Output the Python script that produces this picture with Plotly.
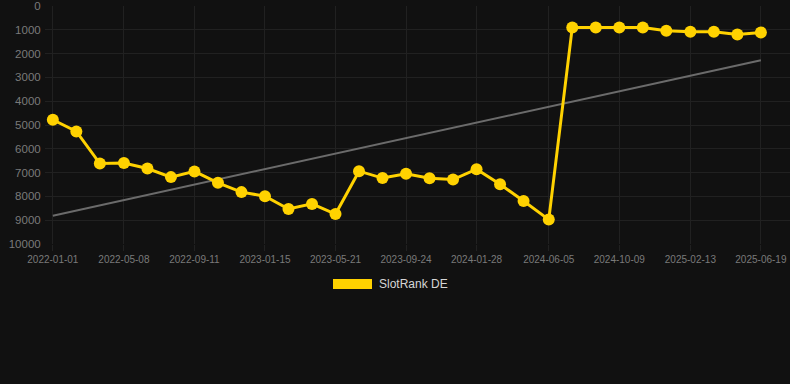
import plotly.graph_objects as go

dates = [
    "2022-01-01", "2022-02-12", "2022-03-26", "2022-05-08", "2022-06-19", "2022-07-31",
    "2022-09-11", "2022-10-23", "2022-12-04", "2023-01-15", "2023-02-26", "2023-04-09",
    "2023-05-21", "2023-07-02", "2023-08-13", "2023-09-24", "2023-11-05", "2023-12-17",
    "2024-01-28", "2024-03-10", "2024-04-21", "2024-06-05", "2024-07-17", "2024-08-28",
    "2024-10-09", "2024-11-20", "2025-01-01", "2025-02-13", "2025-03-27", "2025-05-08",
    "2025-06-19",
]
rank_de = [
    4780, 5270, 6620, 6600, 6830, 7190, 6950, 7430, 7820, 7990, 8530, 8315, 8740,
    6940, 7230, 7050, 7235, 7290, 6855, 7490, 8190, 8975,
    900, 900, 900, 900, 1040, 1080, 1080, 1195, 1110,
]
trend_dates = ["2022-01-01", "2025-06-19"]
trend_values = [8810, 2275]

x_ticks = ["2022-01-01", "2022-05-08", "2022-09-11", "2023-01-15", "2023-05-21",
           "2023-09-24", "2024-01-28", "2024-06-05", "2024-10-09", "2025-02-13",
           "2025-06-19"]
y_ticks = [0, 1000, 2000, 3000, 4000, 5000, 6000, 7000, 8000, 9000, 10000]

series_name = "SlotRank DE"
yellow = "#FFD200"
bg = "#111111"
grid = "#212121"
tickfont = dict(family="Liberation Sans, Arial, sans-serif", size=10, color="#7a7a7a")

fig = go.Figure()
fig.add_trace(go.Scatter(
    x=trend_dates, y=trend_values, mode="lines",
    line=dict(color="#6b6b6b", width=2), showlegend=False, hoverinfo="skip"))
fig.add_trace(go.Scatter(
    x=dates, y=rank_de, mode="lines+markers", name=series_name,
    line=dict(color=yellow, width=3),
    marker=dict(color=yellow, size=12), showlegend=False))

fig.update_layout(
    width=790, height=384,
    paper_bgcolor=bg, plot_bgcolor=bg,
    margin=dict(l=45, r=0, t=6, b=140),
    xaxis=dict(
        type="date", range=["2021-12-18", "2025-08-10"],
        tickvals=x_ticks, ticktext=x_ticks,
        showgrid=True, gridcolor=grid, gridwidth=1,
        ticks="outside", ticklen=6, tickcolor=grid,
        tickfont=tickfont, zeroline=False, showline=False),
    yaxis=dict(
        range=[10000, 0], tickvals=y_ticks, ticktext=[str(v) for v in y_ticks],
        showgrid=True, gridcolor=grid, gridwidth=1,
        ticks="outside", ticklen=1, tickcolor="rgba(0,0,0,0)",
        tickfont=dict(family="Liberation Sans, Arial, sans-serif", size=11.5, color="#7a7a7a"),
        zeroline=False, showline=False),
    shapes=[dict(type="rect", xref="paper", yref="paper",
                 x0=(333 - 45) / 745, x1=(372 - 45) / 745,
                 y0=(384 - 140 - 289) / 238, y1=(384 - 140 - 279) / 238,
                 fillcolor=yellow, line=dict(width=0))],
    annotations=[dict(text=series_name, xref="paper", yref="paper",
                      x=(377 - 45) / 745, y=(384 - 140 - 284) / 238,
                      xanchor="left", yanchor="middle", showarrow=False,
                      font=dict(family="Liberation Sans, Arial, sans-serif", size=12, color="#d6d6d6"))],
)

fig.write_html(
    "out.html",
    config={"displayModeBar": False},
    post_script="document.body.style.margin='0';document.body.style.background='#111111';document.body.style.overflow='hidden';",
)
